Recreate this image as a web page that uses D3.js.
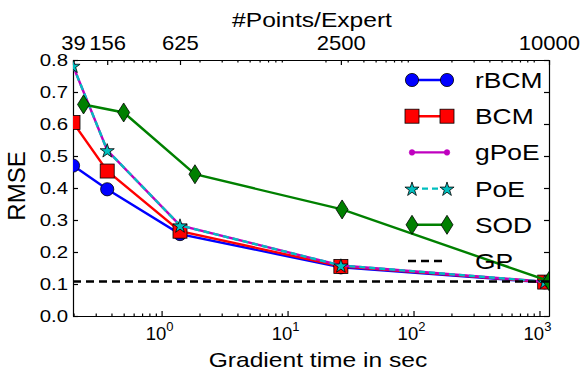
<!DOCTYPE html>
<html>
<head>
<meta charset="utf-8">
<script src="https://cdn.jsdelivr.net/npm/d3@7"></script>
<style>
  body { margin: 0; background: #fff; }
  text { font-family: "Liberation Sans", Arial, sans-serif; fill: #000; }
  .axis path, .axis line { stroke: #000; stroke-width: 1.2px; }
</style>
</head>
<body>
<script>
// gradient time (sec) at each expert size
const times = [0.198, 0.37, 1.4, 26.5, 1100];
const sodTimes = [0.24, 0.5, 1.84, 27.1, 1190];
const topTimes = [0.198, 0.37, 1.4, 26.5, 1190];
const pointsPerExpert = [39, 156, 625, 2500, 10000];

const rbcm = [0.47, 0.396, 0.256, 0.152, 0.105];
const bcm = [0.605, 0.453, 0.265, 0.155, 0.106];
const gpoe = [0.782, 0.518, 0.283, 0.158, 0.107];
const poe = [0.782, 0.518, 0.283, 0.158, 0.107];
const sod = [0.661, 0.636, 0.443, 0.333, 0.109];
const gpRmse = 0.108;

const yTicks = [0, 0.1, 0.2, 0.3, 0.4, 0.5, 0.6, 0.7, 0.8];
const xMajor = [1, 10, 100, 1000];

const width = 581, height = 372;
const pLeft = 73, pRight = 549, pTop = 60, pBottom = 316;

const x = d3.scaleLog().domain([0.198, 1190]).range([pLeft, pRight]);
const y = d3.scaleLinear().domain([0, 0.8]).range([pBottom, pTop]);

const svg = d3.select('body').append('svg')
  .attr('width', width)
  .attr('height', height);

svg.append('clipPath').attr('id', 'clip')
  .append('rect')
  .attr('x', pLeft).attr('y', pTop)
  .attr('width', pRight - pLeft).attr('height', pBottom - pTop);

// horizontally widened text, the reference fonts look stretched
function label(parent, tx, ty, str, size, sx, anchor) {
  const g = parent.append('g').attr('transform', `translate(${tx},${ty}) scale(${sx},1)`);
  return g.append('text')
    .attr('text-anchor', anchor || 'middle')
    .style('font-size', size + 'px')
    .text(str);
}

const minor = x.ticks().filter(v => Math.abs(Math.log10(v) - Math.round(Math.log10(v))) > 1e-9);

// bottom axis
svg.append('g').attr('class', 'axis')
  .attr('transform', `translate(0,${pBottom})`)
  .call(d3.axisBottom(x).tickValues(minor).tickSize(-2.5).tickSizeOuter(0).tickFormat(''));
svg.append('g').attr('class', 'axis')
  .attr('transform', `translate(0,${pBottom})`)
  .call(d3.axisBottom(x).tickValues(xMajor).tickSize(-5).tickSizeOuter(0).tickFormat(''));

xMajor.forEach(v => {
  const t = svg.append('text')
    .attr('x', x(v) - 2)
    .attr('y', pBottom + 24)
    .attr('text-anchor', 'middle')
    .style('font-size', '18.5px');
  t.append('tspan').text('10');
  t.append('tspan').attr('dy', -9).style('font-size', '13px').text(Math.round(Math.log10(v)));
});

// top axis
svg.append('g').attr('class', 'axis')
  .attr('transform', `translate(0,${pTop})`)
  .call(d3.axisTop(x).tickValues(minor).tickSize(-2.5).tickSizeOuter(0).tickFormat(''));
const topAxis = svg.append('g').attr('class', 'axis')
  .attr('transform', `translate(0,${pTop})`)
  .call(d3.axisTop(x).tickValues(topTimes).tickSize(-5).tickSizeOuter(0)
    .tickPadding(10).tickFormat((d, i) => pointsPerExpert[i]));
topAxis.selectAll('text')
  .style('font-size', '21px')
  .attr('transform', 'scale(1.05,1)');

// left axis
const leftAxis = svg.append('g').attr('class', 'axis')
  .attr('transform', `translate(${pLeft},0)`)
  .call(d3.axisLeft(y).tickValues(yTicks).tickSize(-5).tickSizeOuter(0)
    .tickPadding(5).tickFormat(d3.format('.1f')));
leftAxis.selectAll('text')
  .style('font-size', '17px')
  .attr('x', -5 / 1.2)
  .attr('transform', 'scale(1.2,1)');

// right axis
svg.append('g').attr('class', 'axis')
  .attr('transform', `translate(${pRight},0)`)
  .call(d3.axisRight(y).tickValues(yTicks).tickSize(-5).tickSizeOuter(0).tickFormat(''));

// titles
label(svg, 312, 27, '#Points/Expert', 20.5, 1.2);
label(svg, 318, 367, 'Gradient time in sec', 20.5, 1.2);
svg.append('text')
  .attr('transform', `translate(25,186) rotate(-90)`)
  .attr('text-anchor', 'middle')
  .style('font-size', '24px')
  .text('RMSE');

// markers
const starPath = d3.symbol(d3.symbolStar, 62)();
function marker(g, type, cx, cy, color) {
  if (type === 'circle') {
    g.append('circle').attr('cx', cx).attr('cy', cy).attr('r', 6.6)
      .attr('fill', color).attr('stroke', '#000').attr('stroke-width', 0.8);
  } else if (type === 'square') {
    g.append('rect').attr('x', cx - 7).attr('y', cy - 7).attr('width', 14).attr('height', 14)
      .attr('fill', color).attr('stroke', '#000').attr('stroke-width', 0.8);
  } else if (type === 'dot') {
    g.append('circle').attr('cx', cx).attr('cy', cy).attr('r', 2.8)
      .attr('fill', color).attr('stroke', color).attr('stroke-width', 0.5);
  } else if (type === 'star') {
    g.append('path').attr('d', starPath).attr('transform', `translate(${cx},${cy + 0.8})`)
      .attr('fill', color).attr('stroke', '#000').attr('stroke-width', 0.8);
  } else if (type === 'diamond') {
    g.append('path').attr('d', 'M0,-9.5L6,0L0,9.5L-6,0Z').attr('transform', `translate(${cx},${cy})`)
      .attr('fill', color).attr('stroke', '#000').attr('stroke-width', 0.8);
  }
}

const series = [
  { name: 'rBCM', t: times, v: rbcm, color: '#0000ff', marker: 'circle', dash: null },
  { name: 'BCM', t: times, v: bcm, color: '#ff0000', marker: 'square', dash: null },
  { name: 'gPoE', t: times, v: gpoe, color: '#bf00bf', marker: 'dot', dash: null },
  { name: 'PoE', t: times, v: poe, color: '#00bfbf', marker: 'star', dash: '6,4' },
  { name: 'SOD', t: sodTimes, v: sod, color: '#008000', marker: 'diamond', dash: null }
];

const line = d3.line().x(d => x(d[0])).y(d => y(d[1]));
const plot = svg.append('g').attr('clip-path', 'url(#clip)');

series.forEach(s => {
  const pts = s.t.map((t, i) => [t, s.v[i]]);
  plot.append('path')
    .attr('d', line(pts))
    .attr('fill', 'none')
    .attr('stroke', s.color)
    .attr('stroke-width', 2.4)
    .attr('stroke-dasharray', s.dash);
  pts.forEach(p => marker(plot, s.marker, x(p[0]), y(p[1]), s.color));
});

// GP reference
plot.append('line')
  .attr('x1', pLeft).attr('x2', pRight)
  .attr('y1', y(gpRmse)).attr('y2', y(gpRmse))
  .attr('stroke', '#000').attr('stroke-width', 2.4)
  .attr('stroke-dasharray', '8,5');

// legend
const legendNames = ['rBCM', 'BCM', 'gPoE', 'PoE', 'SOD', 'GP'];
const ly = d3.scalePoint().domain(legendNames).range([80, 261]);
const legend = svg.append('g');
legendNames.forEach(n => {
  const s = series.find(d => d.name === n);
  const yy = ly(n);
  if (s) {
    legend.append('line')
      .attr('x1', 412).attr('x2', 447).attr('y1', yy).attr('y2', yy)
      .attr('stroke', s.color).attr('stroke-width', 2.4)
      .attr('stroke-dasharray', s.dash);
    marker(legend, s.marker, 412, yy, s.color);
    marker(legend, s.marker, 447, yy, s.color);
  } else {
    legend.append('line')
      .attr('x1', 408).attr('x2', 447).attr('y1', yy).attr('y2', yy)
      .attr('stroke', '#000').attr('stroke-width', 2.4)
      .attr('stroke-dasharray', '8,5');
  }
  label(legend, 475, yy + 8, n, 22, 1.2, 'start');
});
</script>
</body>
</html>
